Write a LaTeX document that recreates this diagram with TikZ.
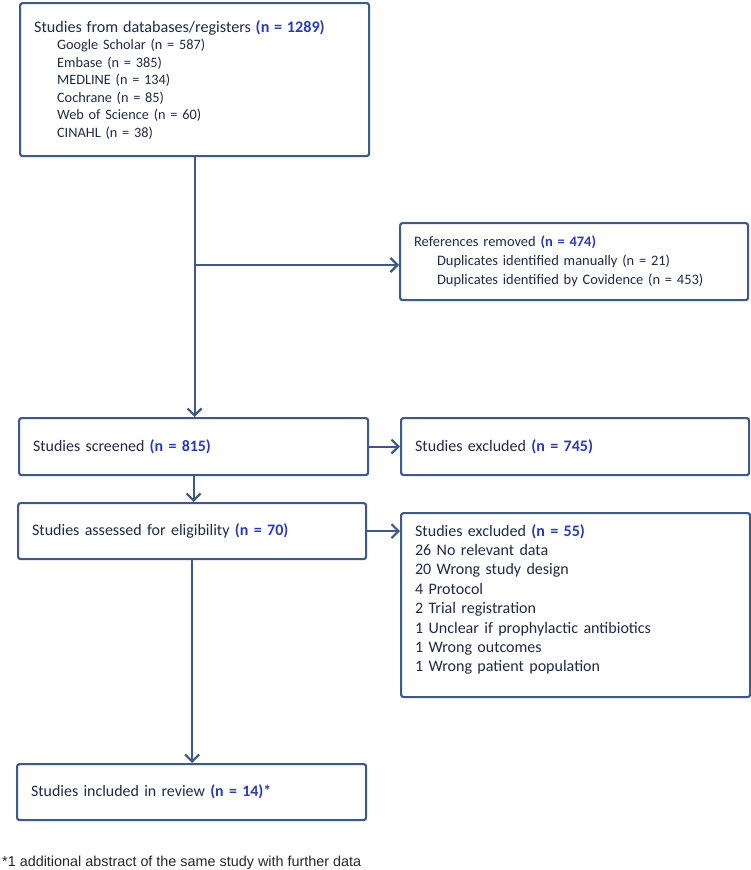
\documentclass[tikz,border=0pt]{standalone}
\usepackage{fontspec}
\setmainfont{Carlito}
\newfontfamily\arialf{Liberation Sans}
\usetikzlibrary{arrows.meta}
\definecolor{lc}{HTML}{3F5886}
\definecolor{tc}{HTML}{1F2A45}
\definecolor{nc}{HTML}{2B3BAF}
\newcommand{\nb}[1]{\textbf{\textcolor{nc}{#1}}}
\newcommand{\ind}{\hspace*{23pt}}
\newlength\tmpw
\newcommand\fitfont[3]{\settowidth\tmpw{\fontsize{10}{12}\selectfont #2}\pgfmathsetmacro#1{10*#3/\tmpw}}
\begin{document}
\fitfont\sT{Studies from databases/registers \nb{(n = 1289)}}{285}%
\fitfont\sS{Google Scholar (n = 587)}{142}%
\fitfont\sR{Duplicates identified by Covidence (n = 453)}{257}%
\fitfont\sX{1 Unclear if prophylactic antibiotics}{229}%
\fitfont\sSc{Studies screened \nb{(n = 815)}}{171}%
\fitfont\sEl{Studies assessed for eligibility \nb{(n = 70)}}{246}%
\fitfont\sIn{Studies included in review \nb{(n = 14)*}}{230}%
\settowidth\tmpw{\arialf\fontsize{10}{12}\selectfont *1 additional abstract of the same study with further data}%
\pgfmathsetmacro\sF{10*359/\tmpw}%
\begin{tikzpicture}[x=1pt,y=-1pt,
  box/.style={draw=lc,line width=2.2pt,rounded corners=2.5pt,anchor=north west,
    inner xsep=14pt,inner ysep=0pt,align=left,text=tc},
  arr/.style={draw=lc,line width=2.2pt,-{Straight Barb[length=7pt,width=14pt,line width=2.2pt]}}]
\useasboundingbox[fill=white] (0,0) rectangle (750,870);

\node[box,font=\fontsize{\sS}{17.5}\selectfont,text width=321pt,minimum height=153pt] (src) at (19,2)
{{\fontsize{\sT}{17.5}\selectfont Studies from databases/registers \nb{(n = 1289)}}\\
\ind Google Scholar (n = 587)\\
\ind Embase (n = 385)\\
\ind MEDLINE (n = 134)\\
\ind Cochrane (n = 85)\\
\ind Web of Science (n = 60)\\
\ind CINAHL (n = 38)};

\node[box,font=\fontsize{\sR}{19}\selectfont,text width=320pt,minimum height=77pt] (ref) at (399,222)
{References removed \nb{(n = 474)}\\
\ind Duplicates identified manually (n = 21)\\
\ind Duplicates identified by Covidence (n = 453)};

\node[box,font=\fontsize{\sSc}{19}\selectfont,text width=321pt,minimum height=57pt] (scr) at (18,417)
{Studies screened \nb{(n = 815)}};

\node[box,font=\fontsize{\sX}{19.4}\selectfont,text width=320pt,minimum height=57pt] (ex1) at (400,417)
{Studies excluded \nb{(n = 745)}};

\node[box,font=\fontsize{\sEl}{19}\selectfont,text width=320pt,minimum height=56pt] (elg) at (17,502)
{Studies assessed for eligibility \nb{(n = 70)}};

\node[box,font=\fontsize{\sX}{19.4}\selectfont,text width=321pt,minimum height=184pt] (ex2) at (400,512)
{Studies excluded \nb{(n = 55)}\\
26 No relevant data\\
20 Wrong study design\\
4 Protocol\\
2 Trial registration\\
1 Unclear if prophylactic antibiotics\\
1 Wrong outcomes\\
1 Wrong patient population\rule[-14pt]{0pt}{1pt}};

\node[box,font=\fontsize{\sIn}{19}\selectfont,text width=321pt,minimum height=56pt] (inc) at (16,763)
{Studies included in review \nb{(n = 14)*}};

\node[anchor=base west,inner sep=0,font=\arialf\fontsize{\sF}{14}\selectfont,text=black!85] (fn) at (2,866)
{*1 additional abstract of the same study with further data};

\coordinate (br) at (src.south |- 0,265);
\draw[arr] (src.south) -- (src.south |- scr.north);
\draw[arr] (br) -- (br -| ref.west);
\draw[arr] (scr.east) -- (ex1.west);
\draw[arr] (scr.south) -- (scr.south |- elg.north);
\draw[arr] (elg.east) -- (elg.east -| ex2.west);
\draw[arr] (elg.south) -- (elg.south |- inc.north);
\end{tikzpicture}
\end{document}
